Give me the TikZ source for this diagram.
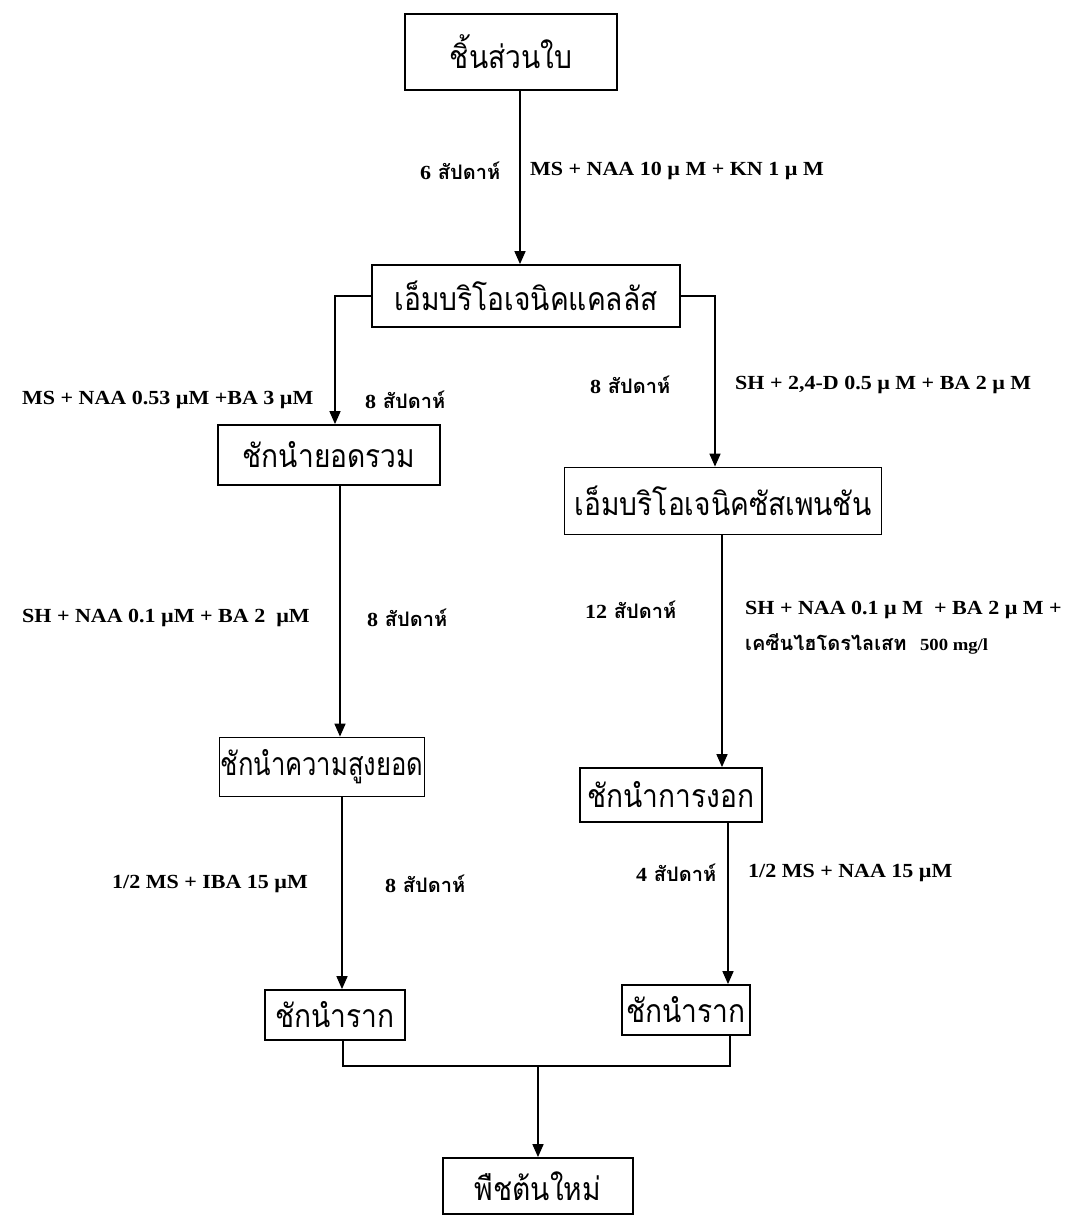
\documentclass[tikz,border=0pt]{standalone}
\usepackage{fontspec}
\setmainfont{Liberation Serif}
\newfontfamily\thaibox[Script=Thai,FakeStretch=0.88]{Loma}
\newfontfamily\thaiboxn[Script=Thai,FakeStretch=0.8]{Loma}
\newfontfamily\thailab[Script=Thai]{Loma}
\newfontfamily\labfont[FakeStretch=1.1]{Liberation Serif}
\usetikzlibrary{arrows.meta}
\begin{document}
\begin{tikzpicture}[x=1pt,y=-1pt,
  stepbox/.style={draw,line width=1.8pt,inner sep=0pt,align=center,font=\thaibox\fontsize{32}{36}\selectfont},
  arr/.style={line width=1.6pt,-{Triangle[length=13pt,width=11pt]}},
  ln/.style={line width=1.6pt},
  lab/.style={anchor=west,inner sep=0pt,font=\labfont\bfseries\fontsize{20}{24}\selectfont},
  tlab/.style={anchor=west,inner sep=0pt,font=\thailab\bfseries\fontsize{20}{24}\selectfont}]
\useasboundingbox (0,0) rectangle (1076,1216);
\node[stepbox,minimum width=212pt,minimum height=76pt] (b1) at (511,52) {ชิ้นส่วนใบ};
\node[stepbox,minimum width=308pt,minimum height=62pt] (b2) at (526,296) {เอ็มบริโอเจนิคแคลลัส};
\node[stepbox,minimum width=222pt,minimum height=60pt] (b3) at (329,455) {ชักนำยอดรวม};
\node[stepbox,minimum width=317pt,minimum height=67pt] (b4) at (723,501) {เอ็มบริโอเจนิคซัสเพนชัน};
\node[stepbox,minimum width=205pt,minimum height=59pt,font=\thaiboxn\fontsize{32}{36}\selectfont] (b5) at (322,767) {ชักนำความสูงยอด};
\node[stepbox,minimum width=182pt,minimum height=54pt] (b6) at (671,795) {ชักนำการงอก};
\node[stepbox,minimum width=140pt,minimum height=50pt] (b7) at (335,1015) {ชักนำราก};
\node[stepbox,minimum width=128pt,minimum height=50pt] (b8) at (686,1010) {ชักนำราก};
\node[stepbox,minimum width=190pt,minimum height=56pt] (b9) at (538,1186) {พืชต้นใหม่};
% guide coordinates
\coordinate (c1) at (520,0);
\coordinate (cL) at (335,0);
\coordinate (cR) at (715,0);
\coordinate (cA) at (340,0);
\coordinate (cB) at (722,0);
\coordinate (cC) at (342,0);
\coordinate (cD) at (728,0);
\coordinate (jL) at (343,1066);
\coordinate (jR) at (730,1066);
\coordinate (jM) at (538,1066);
% connectors
\draw[arr] (b1.south -| c1) -- (b2.north -| c1);
\draw[arr] (b2.west) -| (b3.north -| cL);
\draw[arr] (b2.east) -| (b4.north -| cR);
\draw[arr] (b3.south -| cA) -- (b5.north -| cA);
\draw[arr] (b4.south -| cB) -- (b6.north -| cB);
\draw[arr] (b5.south -| cC) -- (b7.north -| cC);
\draw[arr] (b6.south -| cD) -- (b8.north -| cD);
\draw[ln] (b7.south -| jL) -- (jL) -- (jR) -- (b8.south -| jR);
\draw[arr] (jM) -- (b9.north);
% labels
\node[tlab] (t1) at (420,171) {{\labfont 6} สัปดาห์};
\node[lab] (l1) at (530,171) {MS + NAA 10 µ M + KN 1 µ M};
\node[lab] (l2) at (22,400) {MS + NAA 0.53 µM +BA 3 µM};
\node[tlab] (t2) at (365,400) {{\labfont 8} สัปดาห์};
\node[tlab] (t3) at (590,385) {{\labfont 8} สัปดาห์};
\node[lab] (l3) at (735,385) {SH + 2,4-D 0.5 µ M + BA 2 µ M};
\node[lab] (l4) at (22,618) {SH + NAA 0.1 µM + BA 2 \ µM};
\node[tlab] (t4) at (367,618) {{\labfont 8} สัปดาห์};
\node[tlab] (t5) at (585,610) {{\labfont 12} สัปดาห์};
\node[lab] (l5) at (745,610) {SH + NAA 0.1 µ M \ + BA 2 µ M +};
\node[tlab] (l6) at (745,644) {เคซีนไฮโดรไลเสท\ \ {\labfont\fontsize{17}{20}\selectfont 500 mg/l}};
\node[lab] (l7) at (112,884) {1/2 MS + IBA 15 µM};
\node[tlab] (t6) at (385,884) {{\labfont 8} สัปดาห์};
\node[tlab] (t7) at (636,873) {{\labfont 4} สัปดาห์};
\node[lab] (l8) at (748,873) {1/2 MS + NAA 15 µM};
\end{tikzpicture}
\end{document}
